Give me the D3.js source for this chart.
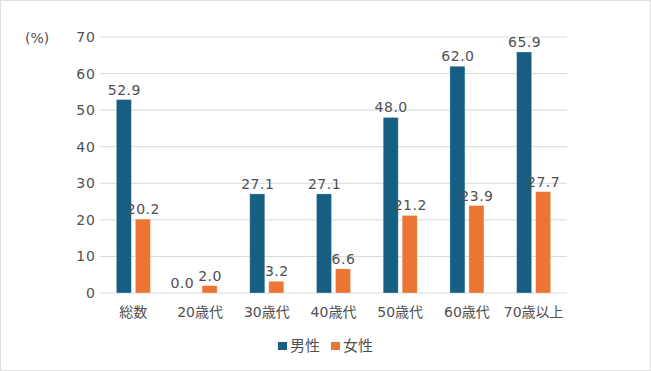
<!DOCTYPE html>
<html><head><meta charset="utf-8">
<script src="https://cdn.jsdelivr.net/npm/d3@7"></script>
<style>
body{margin:0;background:#fff;}
svg{display:block;font-family:"DejaVu Sans","Noto Sans CJK JP",sans-serif;}
</style></head>
<body><svg id="c" width="651" height="371"></svg>
<script>
const categories = ["総数","20歳代","30歳代","40歳代","50歳代","60歳代","70歳以上"];
const male = [52.9, 0.0, 27.1, 27.1, 48.0, 62.0, 65.9];
const female = [20.2, 2.0, 3.2, 6.6, 21.2, 23.9, 27.7];
const seriesNames = ["男性","女性"];
const yTicks = [0,10,20,30,40,50,60,70];
const colors = ["#175f82","#eb7533"];
const FONT = '"DejaVu Sans","Noto Sans CJK JP",sans-serif';
const TXT = "#505050";

const svg = d3.select("#c");
svg.append("rect").attr("x",0.5).attr("y",0.5).attr("width",650).attr("height",370)
  .attr("fill","#fff").attr("stroke","#e0e0e0");

const plotL=100, plotR=567, plotT=37, plotB=293;
const x = d3.scaleBand().domain(categories).range([plotL,plotR]).paddingInner(0).paddingOuter(0);
const y = d3.scaleLinear().domain([0,70]).range([plotB,plotT]);
const sub = d3.scaleBand().domain(seriesNames).range([0,x.bandwidth()]).paddingInner(0.21).paddingOuter(0.86);

// grid
svg.append("g").selectAll("line").data(yTicks).join("line")
  .attr("x1",plotL).attr("x2",plotR).attr("y1",d=>y(d)).attr("y2",d=>y(d))
  .attr("stroke","#d9d9d9").attr("stroke-width",1);

const yAxis = svg.append("g").attr("transform",`translate(${plotL},0)`)
  .call(d3.axisLeft(y).tickValues(yTicks).tickSize(0).tickPadding(4));
yAxis.select(".domain").remove();
yAxis.selectAll("text").attr("font-size",14).attr("letter-spacing",1).attr("fill",TXT).attr("font-family",FONT);

svg.append("text").attr("x",25).attr("y",43).attr("font-size",14).attr("fill",TXT).attr("font-family",FONT).text("(%)");

const data = [male,female];
const labelSel = [];
data.forEach((vals,si)=>{
  const g = svg.append("g");
  g.selectAll("rect").data(vals).join("rect")
    .attr("x",(d,i)=>x(categories[i])+sub(seriesNames[si]))
    .attr("width",sub.bandwidth())
    .attr("y",d=>y(d)).attr("height",d=>y(0)-y(d))
    .attr("fill",colors[si]).attr("stroke","#fff").attr("stroke-opacity",0.4).attr("stroke-width",0.7);
  labelSel.push(g.selectAll("text").data(vals).join("text")
    .attr("x",(d,i)=>x(categories[i])+sub(seriesNames[si])+sub.bandwidth()/2+0.5)
    .attr("y",d=>y(d)-5)
    .attr("text-anchor","middle").attr("font-size",14).attr("letter-spacing",0.5).attr("fill",TXT)
    .attr("font-family",FONT)
    .text(d=>d.toFixed(1)));
});
// nudge overlapping label pairs (male label moves left)
const mNodes = labelSel[0].nodes(), fNodes = labelSel[1].nodes();
mNodes.forEach((mn,i)=>{
  const a = mn.getBBox(), b = fNodes[i].getBBox();
  const vOverlap = a.y < b.y + b.height && b.y < a.y + a.height;
  const hOverlap = a.x + a.width + 4 - b.x;
  if (vOverlap && hOverlap > 0) {
    d3.select(mn).attr("x", +d3.select(mn).attr("x") - hOverlap);
  }
});

const xAxis = svg.append("g").attr("transform",`translate(0,${plotB})`)
  .call(d3.axisBottom(x).tickSize(0).tickPadding(14));
xAxis.select(".domain").remove();
xAxis.selectAll("text").attr("font-size",14).attr("fill",TXT).attr("font-family",FONT);

// legend
const lg = svg.append("g");
const lx = [278,331];
seriesNames.forEach((n,i)=>{
  lg.append("rect").attr("x",lx[i]).attr("y",342).attr("width",9).attr("height",8).attr("fill",colors[i]);
  lg.append("text").attr("x",lx[i]+12).attr("y",351).attr("font-size",15).attr("fill",TXT).attr("font-family",FONT).text(n);
});
</script></body></html>
